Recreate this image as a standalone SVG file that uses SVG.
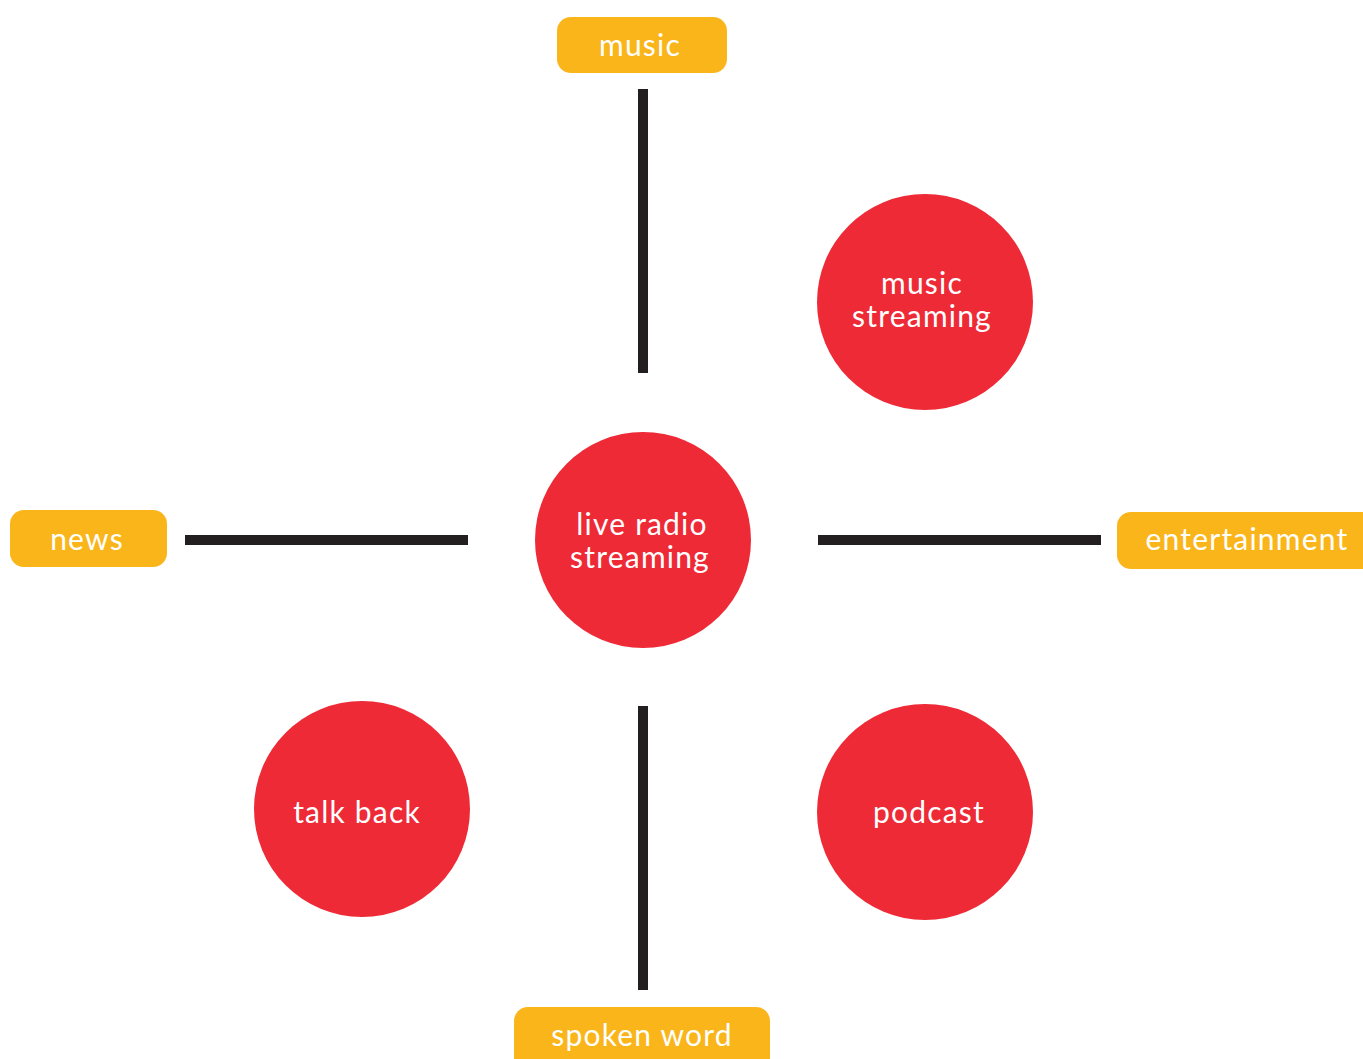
<svg xmlns="http://www.w3.org/2000/svg" width="1363" height="1059" viewBox="0 0 1363 1059">
<style>
.tag{fill:#FAB51A}
.hub{fill:#EE2A37}
.t{fill:#fff;font-family:Lato,"Liberation Sans",sans-serif;text-anchor:middle;letter-spacing:1.2px}
.lt{font-size:30px}
.ct{font-size:30px}
.ln{stroke:#231F20;stroke-width:10;fill:none}
</style>
<rect width="1363" height="1059" fill="#fff"/>
<g id="connectors">
<line class="ln" x1="643" y1="89" x2="643" y2="373"/>
<line class="ln" x1="643" y1="706" x2="643" y2="990"/>
<line class="ln" x1="185" y1="540" x2="468" y2="540"/>
<line class="ln" x1="818" y1="540" x2="1101" y2="540"/>
</g>
<g id="music"><rect class="tag" x="557" y="17" width="170" height="56" rx="14"/><text class="t lt" x="640" y="56">music</text></g>
<g id="news"><rect class="tag" x="10" y="510" width="157" height="57" rx="14"/><text class="t lt" x="87" y="550">news</text></g>
<g id="entertainment"><rect class="tag" x="1117" y="512" width="260" height="57" rx="14"/><text class="t lt" x="1247" y="550">entertainment</text></g>
<g id="spoken-word"><rect class="tag" x="514" y="1007" width="256" height="70" rx="14"/><text class="t lt" x="642" y="1046">spoken word</text></g>
<g id="live-radio-streaming"><circle class="hub" cx="643" cy="540" r="108"/><text class="t ct" x="642" y="535">live radio</text><text class="t ct" x="640" y="568">streaming</text></g>
<g id="music-streaming"><circle class="hub" cx="925" cy="302" r="108"/><text class="t ct" x="922" y="294">music</text><text class="t ct" x="922" y="327">streaming</text></g>
<g id="talk-back"><circle class="hub" cx="362" cy="809" r="108"/><text class="t ct" x="357" y="823">talk back</text></g>
<g id="podcast"><circle class="hub" cx="925" cy="812" r="108"/><text class="t ct" x="929" y="823">podcast</text></g>
</svg>
